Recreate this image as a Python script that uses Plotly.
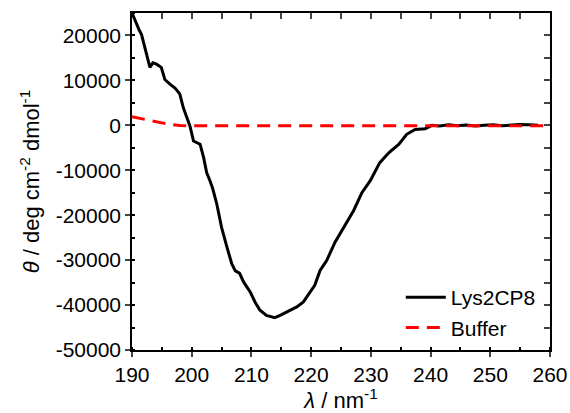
import plotly.graph_objects as go

# Lys2CP8 CD spectrum (wavelength nm, mean residue ellipticity)
lys_wl = [190.0, 190.6, 191.2, 191.6, 192.2, 192.6, 193.0, 193.5, 194.1, 194.9,
          195.5, 196.4, 197.2, 198.0, 198.6, 199.2, 199.7, 200.3, 200.8, 201.4,
          202.0, 202.5, 203.1, 203.5, 204.2, 205.0, 205.9, 206.7, 207.3, 208.0,
          208.7, 209.8, 210.6, 211.4, 212.5, 213.9, 214.8, 216.2, 217.6, 218.7,
          219.5, 220.6, 221.5, 222.6, 224.0, 225.4, 227.1, 228.5, 229.9, 231.5,
          233.0, 234.7, 236.0, 237.4, 239.1, 240.2, 241.5, 243.0, 244.5, 246.0,
          247.5, 249.0, 250.5, 252.0, 253.5, 255.0, 256.5, 258.0]
lys_theta = [25000, 23000, 21200, 20200, 16800, 15000, 12900, 13900, 13600, 12900,
             10200, 9100, 8300, 7000, 3900, 1700, -150, -3500, -3850, -4200,
             -7200, -10500, -12500, -14000, -17500, -22700, -27100, -30800, -32400, -32900,
             -34900, -37100, -39300, -41100, -42300, -42800, -42300, -41400, -40400, -39300,
             -37800, -35600, -32300, -30100, -26000, -22700, -19000, -15000, -12300, -8300,
             -6100, -4200, -2000, -900, -750, 0, -150, 100, -100, 50,
             -150, 0, 150, -100, 50, 200, 150, 0]

# Buffer baseline
buf_wl = [190, 191, 192, 193, 194, 195, 196, 197, 198, 200, 205, 210, 215, 220,
          225, 230, 235, 240, 245, 250, 255, 260]
buf_theta = [1900, 1600, 1300, 1050, 800, 550, 300, 50, -50, -100, -120, -130, -130, -120,
             -120, -110, -100, -100, -100, -100, -100, -100]

x_range = [190, 260]
y_range = [-50000, 25000]
x_ticks = [190, 200, 210, 220, 230, 240, 250, 260]
x_ticklabels = ["190", "200", "210", "220", "230", "240", "250", "260"]
y_ticks = [20000, 10000, 0, -10000, -20000, -30000, -40000, -50000]
y_ticklabels = ["20000", "10000", "0", "-10000", "-20000", "-30000", "-40000", "-50000"]

FONT = "Liberation Sans, Arial, sans-serif"

fig = go.Figure()
fig.add_trace(go.Scatter(x=lys_wl, y=lys_theta, mode="lines", name="Lys2CP8",
                         line=dict(color="black", width=3)))
fig.add_trace(go.Scatter(x=buf_wl, y=buf_theta, mode="lines", name="Buffer",
                         line=dict(color="#ff0000", width=3, dash="13px,8px")))
# invisible trace to create the mirror (top/right) axes
fig.add_trace(go.Scatter(x=[None], y=[None], xaxis="x2", yaxis="y2",
                         showlegend=False, hoverinfo="skip"))

fig.update_layout(
    width=570, height=413,
    margin=dict(l=132, r=20, t=13, b=63),
    plot_bgcolor="white", paper_bgcolor="white",
    font=dict(family=FONT, size=21, color="black"),
    showlegend=True,
    legend=dict(x=0.978, y=0.006, xanchor="right", yanchor="bottom",
                bgcolor="rgba(0,0,0,0)", font=dict(size=21),
                tracegroupgap=0, itemwidth=40),
    xaxis=dict(range=x_range, tickvals=x_ticks, ticktext=x_ticklabels,
               ticks="outside", ticklen=5, automargin=False,
               tickwidth=1.5, showline=True, linecolor="black", linewidth=1.5,
               showgrid=False, zeroline=False, tickfont=dict(size=21),
               minor=dict(dtick=5, ticks="inside", ticklen=3, tickwidth=1.5,
                          tickcolor="black", showgrid=False),
               title=dict(text="<i>λ</i> / nm<sup>-1</sup>", standoff=3,
                          font=dict(size=22))),
    yaxis=dict(range=y_range, tickvals=y_ticks, ticktext=y_ticklabels,
               ticks="outside", ticklen=5, automargin=False,
               tickwidth=1.5, showline=True, linecolor="black", linewidth=1.5,
               showgrid=False, zeroline=False, tickfont=dict(size=21),
               minor=dict(dtick=5000, ticks="inside", ticklen=3, tickwidth=1.5,
                          tickcolor="black", showgrid=False),
               title=dict(text="<i>θ</i> / deg cm<sup>-2</sup> dmol<sup>-1</sup>",
                          standoff=10, font=dict(size=22))),
    xaxis2=dict(range=x_range, overlaying="x", side="top", anchor="y",
                dtick=5, tick0=190, ticks="inside", ticklen=6, tickwidth=1.5,
                showticklabels=False, showline=True, linecolor="black",
                linewidth=1.5, showgrid=False, zeroline=False, automargin=False),
    yaxis2=dict(range=y_range, overlaying="y", side="right", anchor="x",
                dtick=5000, tick0=0, ticks="inside", ticklen=6, tickwidth=1.5,
                showticklabels=False, showline=True, linecolor="black",
                linewidth=1.5, showgrid=False, zeroline=False, automargin=False),
)

# remove the browser's default 8px body margin so the figure fills the window
fig.write_html("out.html",
               config={"displayModeBar": False},
               post_script="document.body.style.margin='0';"
                           "document.body.style.overflow='hidden';")
